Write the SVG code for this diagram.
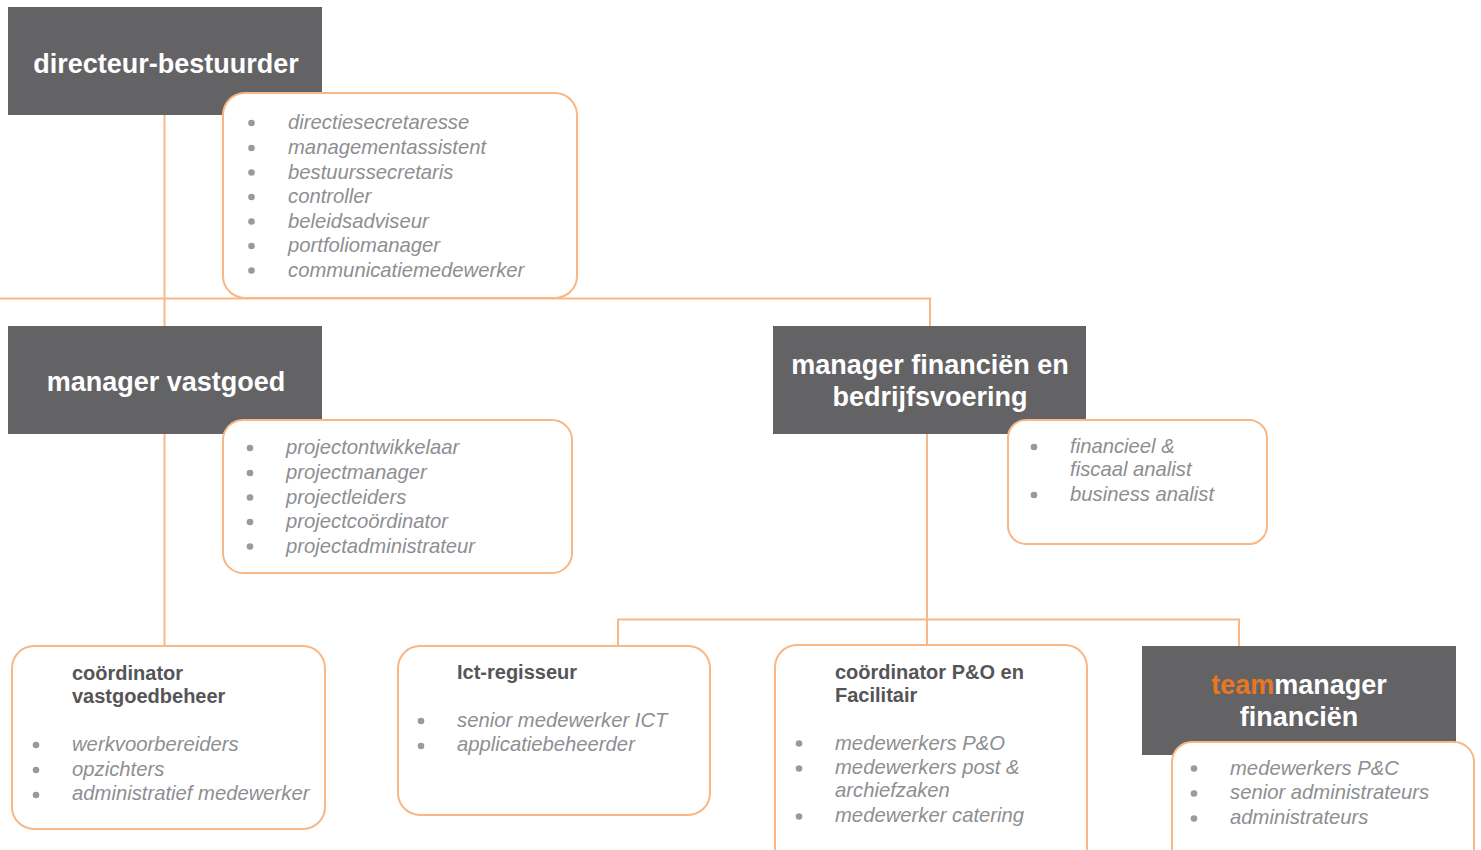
<svg xmlns="http://www.w3.org/2000/svg" width="1481" height="850" viewBox="0 0 1481 850">
<style>
.dark{fill:#636365;}
.hd{font-family:"Liberation Sans",Arial,sans-serif;font-weight:bold;font-size:27px;fill:#ffffff;text-anchor:middle;}
.lst{fill:#ffffff;stroke:#F8B784;stroke-width:2;}
.it{font-family:"Liberation Sans",Arial,sans-serif;font-style:italic;font-size:20.25px;fill:#8E8E92;}
.ttl{font-family:"Liberation Sans",Arial,sans-serif;font-weight:bold;font-size:20px;fill:#555557;}
.bul{fill:#9A9A9C;}
.con{fill:none;stroke:#F8B784;stroke-width:2;}
</style>
<rect width="1481" height="850" fill="#ffffff"/>
<g id="connectors">
<path class="con" d="M0 298.5 H930 V326"/>
<path class="con" d="M164.5 115 V326"/>
<path class="con" d="M164.5 434 V646"/>
<path class="con" d="M927 434 V645"/>
<path class="con" d="M618 645 V619.5 H1239 V646"/>
</g>
<g id="directeur">
<rect class="dark" x="8" y="7" width="314" height="108"/>
<text class="hd" x="166" y="72.5">directeur-bestuurder</text>
</g>
<g id="directeur-staf">
<rect class="lst" x="223" y="93" width="354" height="205" rx="22"/>
<g class="bul">
<circle cx="251.5" cy="123" r="3.3"/><circle cx="251.5" cy="148" r="3.3"/><circle cx="251.5" cy="172.5" r="3.3"/><circle cx="251.5" cy="197" r="3.3"/><circle cx="251.5" cy="221.5" r="3.3"/><circle cx="251.5" cy="246" r="3.3"/><circle cx="251.5" cy="270.5" r="3.3"/>
</g>
<text class="it" x="288" y="129">directiesecretaresse</text>
<text class="it" x="288" y="154">managementassistent</text>
<text class="it" x="288" y="178.5">bestuurssecretaris</text>
<text class="it" x="288" y="203">controller</text>
<text class="it" x="288" y="227.5">beleidsadviseur</text>
<text class="it" x="288" y="252">portfoliomanager</text>
<text class="it" x="288" y="276.5">communicatiemedewerker</text>
</g>
<g id="manager-vastgoed">
<rect class="dark" x="8" y="326" width="314" height="108"/>
<text class="hd" x="166" y="391">manager vastgoed</text>
</g>
<g id="vastgoed-staf">
<rect class="lst" x="223" y="420" width="349" height="153" rx="20"/>
<g class="bul">
<circle cx="250" cy="448" r="3.3"/><circle cx="250" cy="473" r="3.3"/><circle cx="250" cy="497.5" r="3.3"/><circle cx="250" cy="522" r="3.3"/><circle cx="250" cy="546.5" r="3.3"/>
</g>
<text class="it" x="286" y="454">projectontwikkelaar</text>
<text class="it" x="286" y="479">projectmanager</text>
<text class="it" x="286" y="503.5">projectleiders</text>
<text class="it" x="286" y="528">projectcoördinator</text>
<text class="it" x="286" y="552.5">projectadministrateur</text>
</g>
<g id="manager-financien">
<rect class="dark" x="773" y="326" width="313" height="108"/>
<text class="hd" x="930" y="373.5">manager financiën en</text>
<text class="hd" x="930" y="406">bedrijfsvoering</text>
</g>
<g id="financien-staf">
<rect class="lst" x="1008" y="420" width="259" height="124" rx="18"/>
<g class="bul">
<circle cx="1034" cy="447" r="3.3"/><circle cx="1034" cy="495" r="3.3"/>
</g>
<text class="it" x="1070" y="452.5">financieel &amp;</text>
<text class="it" x="1070" y="475.5">fiscaal analist</text>
<text class="it" x="1070" y="501">business analist</text>
</g>
<g id="coordinator-vastgoedbeheer">
<rect class="lst" x="12" y="646" width="313" height="183" rx="22"/>
<text class="ttl" x="72" y="680">coördinator</text>
<text class="ttl" x="72" y="703">vastgoedbeheer</text>
<g class="bul">
<circle cx="36" cy="745" r="3.3"/><circle cx="36" cy="770" r="3.3"/><circle cx="36" cy="795" r="3.3"/>
</g>
<text class="it" x="72" y="751">werkvoorbereiders</text>
<text class="it" x="72" y="775.5">opzichters</text>
<text class="it" x="72" y="800">administratief medewerker</text>
</g>
<g id="ict-regisseur">
<rect class="lst" x="398" y="646" width="312" height="169" rx="22"/>
<text class="ttl" x="457" y="679">Ict-regisseur</text>
<g class="bul">
<circle cx="421" cy="721" r="3.3"/><circle cx="421" cy="746" r="3.3"/>
</g>
<text class="it" x="457" y="727">senior medewerker ICT</text>
<text class="it" x="457" y="751">applicatiebeheerder</text>
</g>
<g id="coordinator-po">
<rect class="lst" x="775" y="645" width="312" height="230" rx="22"/>
<text class="ttl" x="835" y="679">coördinator P&amp;O en</text>
<text class="ttl" x="835" y="701.5">Facilitair</text>
<g class="bul">
<circle cx="799" cy="743.5" r="3.3"/><circle cx="799" cy="768.5" r="3.3"/><circle cx="799" cy="816.5" r="3.3"/>
</g>
<text class="it" x="835" y="749.5">medewerkers P&amp;O</text>
<text class="it" x="835" y="774">medewerkers post &amp;</text>
<text class="it" x="835" y="797">archiefzaken</text>
<text class="it" x="835" y="822">medewerker catering</text>
</g>
<g id="teammanager-financien">
<rect class="dark" x="1142" y="646" width="314" height="109"/>
<text class="hd" x="1299" y="693.5"><tspan fill="#E87722">team</tspan>manager</text>
<text class="hd" x="1299" y="725.5">financiën</text>
</g>
<g id="teammanager-staf">
<rect class="lst" x="1172" y="742" width="302" height="130" rx="20"/>
<g class="bul">
<circle cx="1194" cy="768.5" r="3.3"/><circle cx="1194" cy="793.5" r="3.3"/><circle cx="1194" cy="818.5" r="3.3"/>
</g>
<text class="it" x="1230" y="774.5">medewerkers P&amp;C</text>
<text class="it" x="1230" y="799">senior administrateurs</text>
<text class="it" x="1230" y="824">administrateurs</text>
</g>
</svg>
